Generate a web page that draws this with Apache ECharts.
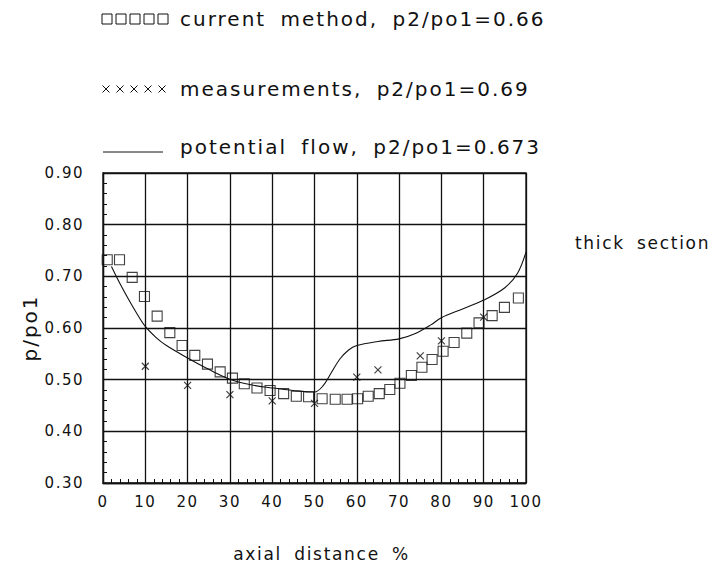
<!DOCTYPE html>
<html>
<head>
<meta charset="utf-8">
<script src="https://cdn.jsdelivr.net/npm/echarts@6/dist/echarts.min.js"></script>
<style>
  html, body { margin: 0; padding: 0; background: #fff; }
  #chart { width: 718px; height: 568px; }
  /* plotter-style lettering: airy letters and wide word gaps */
  #chart text { letter-spacing: 0.1em; word-spacing: 0.3em; }
</style>
</head>
<body>
<div id="chart"></div>
<script>
// pressure ratio along the passage, thick section
const seriesNames = [
  'current method, p2/po1=0.66',
  'measurements, p2/po1=0.69',
  'potential flow, p2/po1=0.673'
];
const sideNote = 'thick section';
const xTitle = 'axial distance %';
const yTitle = 'p/po1';

const xTicks = [0, 10, 20, 30, 40, 50, 60, 70, 80, 90, 100];
const yTicks = [0.30, 0.40, 0.50, 0.60, 0.70, 0.80, 0.90];

// current method (squares)
const methodX = [1.0, 3.9, 6.9, 9.8, 12.8, 15.8, 18.7, 21.7, 24.7, 27.7, 30.6, 33.4,
  36.4, 39.5, 42.7, 45.7, 48.6, 51.8, 54.9, 57.7, 60.2, 62.7, 65.3, 67.8, 70.2,
  72.9, 75.4, 77.8, 80.4, 83.0, 86.0, 88.9, 92.0, 94.9, 98.2];
const methodY = [0.732, 0.732, 0.698, 0.661, 0.623, 0.591, 0.566, 0.547, 0.530, 0.515,
  0.503, 0.492, 0.484, 0.479, 0.473, 0.468, 0.467, 0.463, 0.462, 0.462, 0.463, 0.468,
  0.473, 0.481, 0.493, 0.508, 0.524, 0.539, 0.555, 0.572, 0.590, 0.610, 0.624, 0.640, 0.658];

// measurements (crosses)
const measX = [10, 20, 30, 40, 50, 60, 65, 75, 80, 90];
const measY = [0.526, 0.489, 0.471, 0.459, 0.454, 0.505, 0.519, 0.546, 0.575, 0.621];

// potential flow (solid curve)
const flowX = [2, 4, 6, 8, 10, 12.5, 15, 20, 25, 30, 35, 40, 45, 50, 52, 54, 56,
  58, 60, 65, 70, 74, 77.5, 80, 85, 90, 95, 98, 100];
const flowY = [0.719, 0.686, 0.656, 0.628, 0.603, 0.582, 0.566, 0.542, 0.520,
  0.501, 0.490, 0.484, 0.479, 0.476, 0.488, 0.514, 0.540, 0.557, 0.566, 0.574,
  0.579, 0.590, 0.606, 0.620, 0.637, 0.654, 0.678, 0.706, 0.747];

const ink = '#111';
const FONT = 'DejaVu Sans';
const pairs = (xs, ys) => xs.map((x, i) => [x, ys[i]]);
const crossPath = 'path://M0,0L10,10M10,0L0,10';

// legend block drawn above the plot: marker strip + label per row
function legendRow(kind, top, label) {
  const children = [];
  if (kind === 'square') {
    for (let i = 0; i < 5; i++) {
      children.push({ type: 'rect', shape: { x: 102 + i * 14, y: top - 5, width: 10, height: 10 },
        style: { fill: 'none', stroke: ink, lineWidth: 1 } });
    }
  } else if (kind === 'cross') {
    for (let i = 0; i < 5; i++) {
      const cx = 106 + i * 14;
      children.push({ type: 'polyline', shape: { points: [[cx - 3.5, top - 3.5], [cx + 3.5, top + 3.5]] },
        style: { stroke: ink, lineWidth: 1 } });
      children.push({ type: 'polyline', shape: { points: [[cx + 3.5, top - 3.5], [cx - 3.5, top + 3.5]] },
        style: { stroke: ink, lineWidth: 1 } });
    }
  } else {
    children.push({ type: 'line', shape: { x1: 103, y1: top + 5, x2: 163, y2: top + 5 },
      style: { stroke: ink, lineWidth: 1 } });
  }
  children.push({ type: 'text', x: 180, y: top,
    style: { text: label, fontSize: 20, fontFamily: FONT, fill: ink, align: 'left', verticalAlign: 'middle' } });
  return { type: 'group', children };
}

const chart = echarts.init(document.getElementById('chart'), null, { renderer: 'svg' });

const axisCommon = {
  type: 'value',
  axisLine: { show: true, lineStyle: { color: ink, width: 1.3 } },
  axisTick: { show: false, inside: true },
  minorTick: { show: true, splitNumber: 5, length: 4, lineStyle: { color: ink, width: 1 } },
  splitLine: { show: true, lineStyle: { color: ink, width: 1.3 } },
  minorSplitLine: { show: false }
};

chart.setOption({
  animation: false,
  backgroundColor: '#fff',
  grid: { left: 103, top: 173, width: 423, height: 310, show: true,
    borderColor: ink, borderWidth: 1.3, backgroundColor: 'transparent' },
  xAxis: Object.assign({}, axisCommon, {
    min: xTicks[0], max: xTicks[xTicks.length - 1], interval: xTicks[1] - xTicks[0],
    name: xTitle, nameLocation: 'middle', nameGap: 62,
    nameTextStyle: { fontSize: 17, fontFamily: FONT, color: ink, padding: [0, 0, 0, 14] },
    axisLabel: { margin: 11, fontSize: 15, fontFamily: FONT, color: ink }
  }),
  yAxis: Object.assign({}, axisCommon, {
    min: yTicks[0], max: yTicks[yTicks.length - 1], interval: 0.1,
    name: yTitle, nameLocation: 'middle', nameGap: 62,
    nameTextStyle: { fontSize: 20, fontFamily: FONT, color: ink },
    axisLabel: { margin: 19, fontSize: 15, fontFamily: FONT, color: ink,
      formatter: v => v.toFixed(2) }
  }),
  graphic: [
    legendRow('square', 19, seriesNames[0]),
    legendRow('cross', 89, seriesNames[1]),
    legendRow('line', 147, seriesNames[2]),
    { type: 'text', x: 575, y: 243,
      style: { text: sideNote, fontSize: 17, fontFamily: FONT, fill: ink, align: 'left', verticalAlign: 'middle' } }
  ],
  series: [
    {
      name: seriesNames[2], type: 'line', data: pairs(flowX, flowY),
      smooth: 0.35, showSymbol: false,
      lineStyle: { color: ink, width: 1.1 }, z: 3
    },
    {
      name: seriesNames[0], type: 'scatter', data: pairs(methodX, methodY),
      symbol: 'rect', symbolSize: 10,
      itemStyle: { color: 'rgba(0,0,0,0)', borderColor: ink, borderWidth: 1.1 }, z: 4
    },
    {
      name: seriesNames[1], type: 'scatter', data: pairs(measX, measY),
      symbol: crossPath, symbolSize: 7,
      itemStyle: { color: 'none', borderColor: ink, borderWidth: 1.2 }, z: 5
    }
  ]
});
</script>
</body>
</html>
